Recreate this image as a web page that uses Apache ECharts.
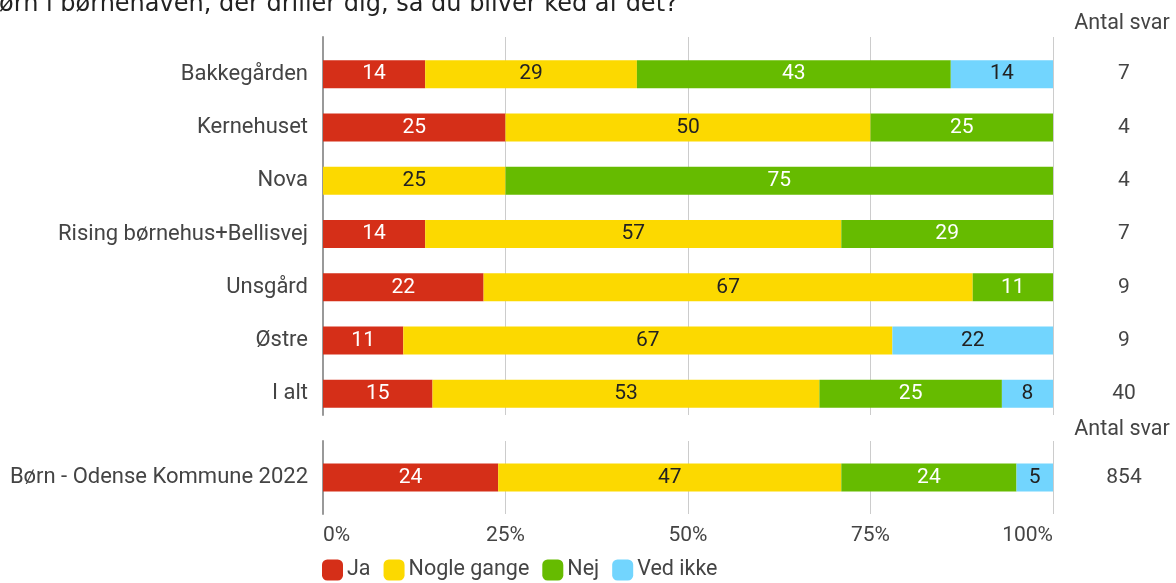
<!DOCTYPE html>
<html>
<head>
<meta charset="utf-8">
<script src="https://cdn.jsdelivr.net/npm/echarts@6/dist/echarts.min.js"></script>
<style>
  html, body { margin: 0; padding: 0; background: #fff; }
  #app { width: 1176px; height: 583px; }
</style>
</head>
<body>
<div id="app"></div>
<script>
// svar-kategorier og farver
const seriesNames = ["Ja", "Nogle gange", "Nej", "Ved ikke"];
const colors = ["#d52f18", "#fcd900", "#66bb00", "#72d5fe"];
const labelColors = ["#fff", "#222", "#fff", "#222"];

// institutioner
const categories = ["Bakkegården", "Kernehuset", "Nova", "Rising børnehus+Bellisvej", "Unsgård", "Østre", "I alt"];
const counts = [7, 4, 4, 7, 9, 9, 40];
const ja = [14, 25, null, 14, 22, 11, 15];
const nogleGange = [29, 50, 25, 57, 67, 67, 53];
const nej = [43, 25, 75, 29, 11, null, 25];
const vedIkke = [14, null, null, null, null, 22, 8];

// sammenligning
const compareCategories = ["Børn - Odense Kommune 2022"];
const compareCounts = [854];
const compareValues = [[24], [47], [24], [5]];

const xTicks = [0, 25, 50, 75, 100];

const app = document.getElementById("app");
const myChart = echarts.init(app);

const font = "Roboto";
const mainValues = [ja, nogleGange, nej, vedIkke];

const makeSeries = (values, i, axis, stack) => ({
  name: seriesNames[i],
  type: "bar",
  stack: stack,
  xAxisIndex: axis,
  yAxisIndex: axis === 0 ? 0 : 2,
  barWidth: 28,
  data: values,
  itemStyle: { color: colors[i] },
  label: {
    show: true,
    position: "inside",
    color: labelColors[i],
    fontFamily: font,
    fontSize: 21,
  },
  emphasis: { disabled: true },
});

const series = [];
mainValues.forEach((v, i) => series.push(makeSeries(v, i, 0, "main")));
compareValues.forEach((v, i) => series.push(makeSeries(v, i, 1, "cmp")));

const catLabel = { color: "#444", fontFamily: font, fontSize: 22, margin: 15 };
const countLabel = { color: "#444", fontFamily: font, fontSize: 21, margin: 71, align: "center" };

myChart.setOption({
  animation: false,
  textStyle: { fontFamily: font },
  legend: {
    data: seriesNames,
    left: 322,
    top: 559,
    padding: 0,
    icon: "roundRect",
    itemWidth: 21,
    itemHeight: 21,
    itemGap: 13,
    selectedMode: false,
    textStyle: { color: "#444", fontSize: 21.5, fontFamily: font, padding: [0, 0, 0, -1] },
  },
  grid: [
    { left: 323, width: 730, top: 47.5, height: 373 },
    { left: 323, width: 730, top: 441, height: 73 },
    { left: 323, width: 730, top: 37, height: 378 },
  ],
  xAxis: [
    {
      gridIndex: 0, type: "value", min: 0, max: 100, interval: 25,
      axisLabel: { show: false }, splitLine: { show: false },
      axisLine: { show: false }, axisTick: { show: false },
    },
    {
      gridIndex: 1, type: "value", min: 0, max: 100, interval: 25,
      axisLabel: {
        color: "#444", fontFamily: font, fontSize: 21, margin: 11,
        formatter: (v) => (xTicks.includes(v) ? v + "%" : ""),
        alignMinLabel: "left", alignMaxLabel: "right",
      },
      splitLine: { show: true, lineStyle: { color: "#ccc", width: 1 } },
      axisLine: { show: false }, axisTick: { show: false },
    },
    {
      gridIndex: 2, type: "value", min: 0, max: 100, interval: 25,
      axisLabel: { show: false },
      splitLine: { show: true, lineStyle: { color: "#ccc", width: 1 } },
      axisLine: { show: false }, axisTick: { show: false },
    },
  ],
  yAxis: [
    {
      gridIndex: 0, type: "category", inverse: true, data: categories,
      axisLabel: catLabel, axisLine: { show: false }, axisTick: { show: false },
    },
    {
      gridIndex: 0, type: "category", inverse: true, position: "right", data: counts,
      axisLabel: countLabel, axisLine: { show: false }, axisTick: { show: false },
    },
    {
      gridIndex: 1, type: "category", data: compareCategories,
      axisLabel: catLabel,
      axisLine: { show: true, lineStyle: { color: "#999", width: 2 } },
      axisTick: { show: false },
    },
    {
      gridIndex: 1, type: "category", position: "right", data: compareCounts,
      axisLabel: countLabel, axisLine: { show: false }, axisTick: { show: false },
    },
    {
      gridIndex: 2, type: "value", min: 0, max: 1,
      axisLabel: { show: false }, splitLine: { show: false }, axisTick: { show: false },
      axisLine: { show: true, lineStyle: { color: "#999", width: 2 } },
    },
  ],
  graphic: [
    {
      type: "text", x: -1, y: 5,
      style: {
        text: "ørn i børnehaven, der driller dig, så du bliver ked af det?",
        font: "24px 'DejaVu Sans'", fill: "#222", verticalAlign: "middle",
      },
    },
    {
      type: "text", x: 1122, y: 24,
      style: { text: "Antal svar", font: "21.5px Roboto", fill: "#444", align: "center", verticalAlign: "middle" },
    },
    {
      type: "text", x: 1122, y: 430,
      style: { text: "Antal svar", font: "21.5px Roboto", fill: "#444", align: "center", verticalAlign: "middle" },
    },
  ],
  series: series,
});
</script>
</body>
</html>
